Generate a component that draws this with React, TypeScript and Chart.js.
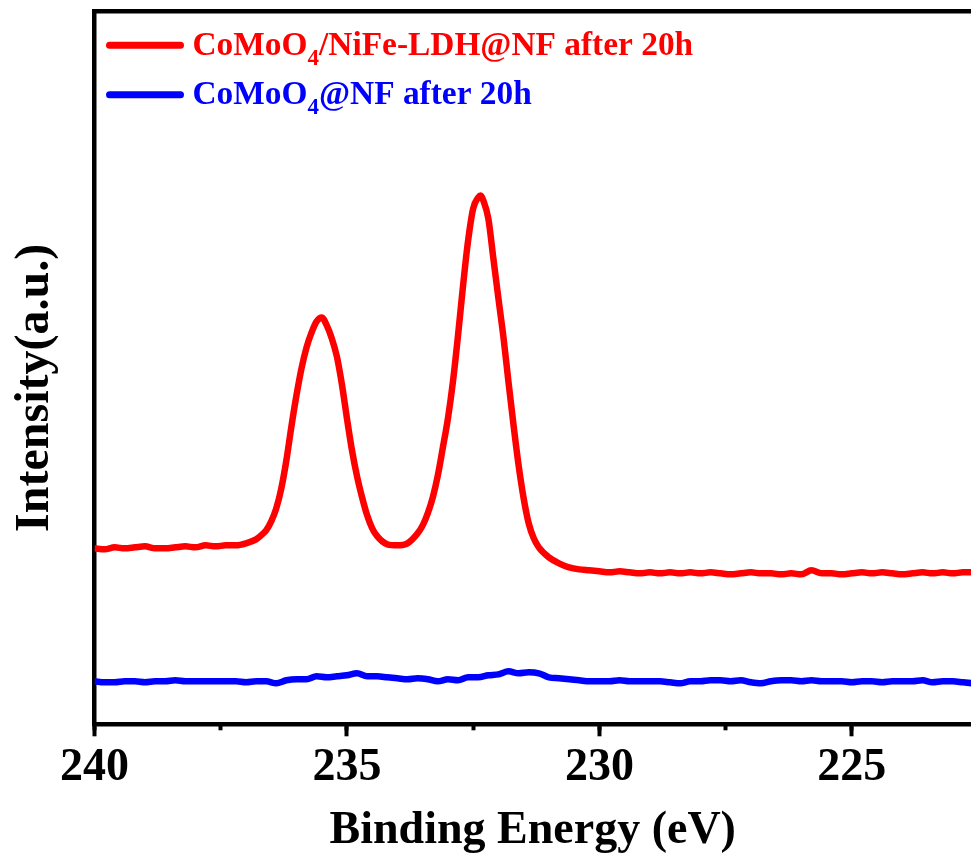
import React, { useEffect, useRef } from 'react';
import { Chart, registerables } from 'chart.js';

Chart.register(...registerables);

// ---- Data ----
const seriesNames = ['CoMoO4/NiFe-LDH@NF after 20h', 'CoMoO4@NF after 20h'];
const legendPre = ['CoMoO', 'CoMoO'];
const legendSub = ['4', '4'];
const legendPost = ['/NiFe-LDH@NF after 20h', '@NF after 20h'];

const xAxisTitle = 'Binding Energy (eV)';
const yAxisTitle = 'Intensity(a.u.)';
const xMajorStep = 5;
const xMinorStep = 2.5;
const xMin = 222.64;
const xMax = 240;
const yMin = 0;
const yMax = 713;

const redEnergy = [
  240.0, 239.8, 239.6, 239.4, 239.2, 239.0, 238.8, 238.6, 238.4, 238.2,
  238.0, 237.8, 237.6, 237.4, 237.2, 237.0, 236.8, 236.7, 236.6, 236.5,
  236.4, 236.3, 236.2, 236.1, 236.0, 235.9, 235.8, 235.7, 235.6, 235.5,
  235.4, 235.3, 235.2, 235.1, 235.0, 234.9, 234.8, 234.7, 234.6, 234.5,
  234.4, 234.3, 234.2, 234.0, 233.8, 233.6, 233.5, 233.4, 233.3, 233.2,
  233.1, 233.0, 232.9, 232.8, 232.7, 232.6, 232.5, 232.4, 232.35, 232.3,
  232.2, 232.1, 232.0, 231.9, 231.8, 231.7, 231.6, 231.5, 231.4, 231.3,
  231.2, 231.0, 230.8, 230.6, 230.4, 230.2, 230.0, 229.8, 229.6, 229.4,
  229.2, 229.0, 228.8, 228.6, 228.4, 228.2, 228.0, 227.8, 227.6, 227.4,
  227.2, 227.0, 226.8, 226.6, 226.4, 226.2, 226.0, 225.8, 225.6, 225.4,
  225.2, 225.0, 224.8, 224.6, 224.4, 224.2, 224.0, 223.8, 223.6, 223.4,
  223.2, 223.0, 222.8, 222.6,
];
const redIntensity = [
  176, 175, 177, 176, 177, 178, 176, 176, 177, 178,
  177, 179, 178, 179, 179, 181, 185, 189, 194, 203,
  216, 236, 264, 298, 329, 356, 377, 392, 403, 407,
  399, 386, 368, 340, 306, 274, 248, 227, 209, 196,
  188, 183, 180, 179, 181, 191, 199, 211, 227, 249,
  277, 306, 343, 389, 439, 484, 516, 527, 529, 524,
  506, 466, 426, 387, 342, 299, 259, 226, 201, 186,
  177, 167, 161, 157, 155, 154, 153, 152, 153, 152,
  151, 152, 151, 152, 151, 152, 151, 152, 151, 150,
  151, 152, 151, 151, 150, 151, 150, 154, 151, 151,
  150, 151, 152, 151, 152, 151, 150, 151, 152, 151,
  152, 151, 152, 152,
];

const blueEnergy = [
  240.0, 239.8, 239.6, 239.4, 239.2, 239.0, 238.8, 238.6, 238.4, 238.2,
  238.0, 237.8, 237.6, 237.4, 237.2, 237.0, 236.8, 236.6, 236.4, 236.2,
  236.0, 235.8, 235.6, 235.4, 235.2, 235.0, 234.8, 234.6, 234.4, 234.2,
  234.0, 233.8, 233.6, 233.4, 233.2, 233.0, 232.8, 232.6, 232.4, 232.2,
  232.0, 231.8, 231.6, 231.4, 231.2, 231.0, 230.8, 230.6, 230.4, 230.2,
  230.0, 229.8, 229.6, 229.4, 229.2, 229.0, 228.8, 228.6, 228.4, 228.2,
  228.0, 227.8, 227.6, 227.4, 227.2, 227.0, 226.8, 226.6, 226.4, 226.2,
  226.0, 225.8, 225.6, 225.4, 225.2, 225.0, 224.8, 224.6, 224.4, 224.2,
  224.0, 223.8, 223.6, 223.4, 223.2, 223.0, 222.8, 222.6,
];
const blueIntensity = [
  43, 42, 42, 43, 43, 42, 43, 43, 44, 43,
  43, 43, 43, 43, 43, 42, 43, 43, 41, 44,
  45, 45, 48, 47, 48, 49, 51, 48, 48, 47,
  46, 45, 46, 45, 43, 45, 44, 47, 47, 49,
  50, 53, 51, 52, 51, 47, 46, 45, 44, 43,
  43, 43, 44, 43, 43, 43, 43, 42, 41, 43,
  43, 44, 44, 43, 44, 42, 41, 43, 44, 44,
  43, 44, 43, 43, 43, 42, 43, 43, 42, 43,
  43, 43, 44, 42, 43, 43, 42, 41,
];

const seriesColors = ['#ff0000', '#0000ff'];
const FONT = '"Liberation Serif", "Times New Roman", serif';

const yTitlePlugin = {
  id: 'yTitleCustom',
  afterDraw(chart: any) {
    const { ctx, chartArea } = chart;
    ctx.save();
    ctx.font = `bold 48px ${FONT}`;
    ctx.fillStyle = '#000';
    ctx.textAlign = 'center';
    ctx.textBaseline = 'alphabetic';
    ctx.translate(48, (chartArea.top + chartArea.bottom) / 2 + 20);
    ctx.rotate(-Math.PI / 2);
    ctx.fillText(yAxisTitle, 0, 0);
    ctx.restore();
  },
};

const legendPlugin = {
  id: 'subscriptLegend',
  afterDraw(chart: any) {
    const { ctx } = chart;
    ctx.save();
    seriesNames.forEach((_, i) => {
      const lineY = 45.3 + i * 49.4;
      ctx.strokeStyle = seriesColors[i];
      ctx.lineWidth = 7;
      ctx.lineCap = 'round';
      ctx.beginPath();
      ctx.moveTo(109.5, lineY);
      ctx.lineTo(180.5, lineY);
      ctx.stroke();

      const base = 55 + i * 49.4;
      ctx.fillStyle = seriesColors[i];
      ctx.textAlign = 'left';
      ctx.textBaseline = 'alphabetic';
      let x = 192.5;
      ctx.font = `bold 33.4px ${FONT}`;
      ctx.fillText(legendPre[i], x, base);
      x += ctx.measureText(legendPre[i]).width;
      ctx.font = `bold 23px ${FONT}`;
      ctx.fillText(legendSub[i], x, base + 10);
      x += ctx.measureText(legendSub[i]).width;
      ctx.font = `bold 33.4px ${FONT}`;
      ctx.fillText(legendPost[i], x, base);
    });
    ctx.restore();
  },
};

export default function App() {
  const canvasRef = useRef<HTMLCanvasElement | null>(null);

  useEffect(() => {
    document.body.style.margin = '0';
    const canvas = canvasRef.current;
    if (!canvas) return;
    const chart = new Chart(canvas, {
      type: 'line',
      data: {
        datasets: [
          {
            label: seriesNames[0],
            data: redEnergy.map((x, i) => ({ x, y: redIntensity[i] })),
            borderColor: seriesColors[0],
            borderWidth: 6.5,
            pointRadius: 0,
            cubicInterpolationMode: 'monotone',
            fill: false,
            xAxisID: 'x',
            yAxisID: 'y',
          },
          {
            label: seriesNames[1],
            data: blueEnergy.map((x, i) => ({ x, y: blueIntensity[i] })),
            borderColor: seriesColors[1],
            borderWidth: 6.5,
            pointRadius: 0,
            cubicInterpolationMode: 'monotone',
            fill: false,
            xAxisID: 'x',
            yAxisID: 'y',
          },
        ],
      },
      options: {
        responsive: true,
        maintainAspectRatio: false,
        animation: false,
        layout: { padding: { top: 11.5, left: 0, right: 0, bottom: 0 } },
        plugins: {
          legend: { display: false },
          tooltip: { enabled: false },
        },
        scales: {
          x: {
            type: 'linear',
            position: 'bottom',
            reverse: true,
            min: xMin,
            max: xMax,
            weight: 1,
            ticks: {
              stepSize: xMajorStep,
              includeBounds: false,
              autoSkip: false,
              maxRotation: 0,
              padding: 4,
              color: '#000',
              font: { family: FONT, size: 46, weight: 'bold' },
            },
            grid: {
              display: true,
              drawOnChartArea: false,
              drawTicks: true,
              tickLength: 12,
              tickWidth: 4,
              tickColor: '#000',
            },
            border: { display: true, width: 4.5, color: '#000' },
            title: {
              display: true,
              text: xAxisTitle,
              color: '#000',
              font: { family: FONT, size: 46, weight: 'bold' },
              padding: { top: 0, bottom: 4 },
            },
            afterFit: (s: any) => {
              s.height = 138.7;
            },
          },
          xMinor: {
            type: 'linear',
            position: 'bottom',
            reverse: true,
            min: xMin,
            max: xMax,
            weight: 0,
            ticks: {
              stepSize: xMinorStep,
              includeBounds: false,
              autoSkip: false,
              maxRotation: 0,
              callback: () => '',
              font: { size: 1 },
            },
            grid: {
              display: true,
              drawOnChartArea: false,
              drawTicks: true,
              tickLength: 6,
              tickWidth: 4,
              tickColor: '#000',
            },
            border: { display: false },
            afterFit: (s: any) => {
              s.height = 0;
            },
          },
          xTop: {
            type: 'linear',
            position: 'top',
            min: xMin,
            max: xMax,
            ticks: { display: false },
            grid: { display: false },
            border: { display: true, width: 4.5, color: '#000' },
            afterFit: (s: any) => {
              s.height = 0;
            },
          },
          y: {
            type: 'linear',
            position: 'left',
            min: yMin,
            max: yMax,
            ticks: { display: false },
            grid: { display: false },
            border: { display: true, width: 4.5, color: '#000' },
            afterFit: (s: any) => {
              s.width = 94.5;
            },
          },
        },
      } as any,
      plugins: [yTitlePlugin, legendPlugin],
    });
    return () => chart.destroy();
  }, []);

  return (
    <div style={{ position: 'relative', width: 971, height: 863 }}>
      <canvas ref={canvasRef} />
    </div>
  );
}
